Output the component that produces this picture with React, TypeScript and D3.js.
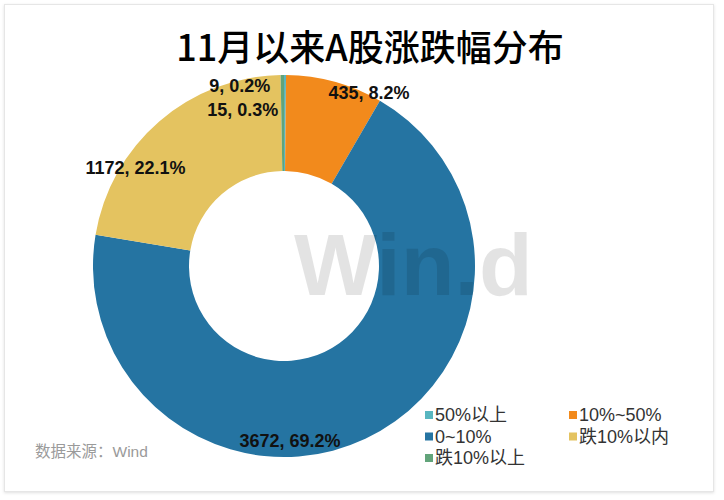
import React from "react";
import { pie, arc, PieArcDatum } from "d3";

// data
const categories = ["50%以上", "10%~50%", "0~10%", "跌10%以内", "跌10%以上"];
const counts = [9, 435, 3672, 1172, 15];
const shares = ["0.2%", "8.2%", "69.2%", "22.1%", "0.3%"];
const colors = ["#58b6c0", "#f28a1c", "#2574a2", "#e4c360", "#62a47a"];
// label nudges from the slice centroid (Excel "best fit" style)
const labelOffsets: [number, number][] = [
  [-45, -37],
  [47, -35],
  [-55, 45],
  [-55, 10],
  [-40, -13],
];
// legend grid: [column, row]
const legendSlots: [number, number][] = [
  [0, 0],
  [1, 0],
  [0, 1],
  [1, 1],
  [0, 2],
];

const W = 724;
const H = 500;
const cx = 284;
const cy = 266;
const outerR = 191;
const innerR = 95;

const latin = "Arial, 'Liberation Sans', 'Noto Sans CJK SC', sans-serif";

export default function App() {
  const slices = pie<number>().sort(null).value((d) => d)(counts);
  const arcGen = arc<PieArcDatum<number>>().innerRadius(innerR).outerRadius(outerR);

  return (
    <svg
      width={W}
      height={H}
      style={{ position: "absolute", left: 0, top: 0, background: "#fff" }}
    >
      <defs>
        <filter id="shadow" x="-5%" y="-5%" width="110%" height="110%">
          <feDropShadow dx="0" dy="1" stdDeviation="1.5" floodColor="#000" floodOpacity="0.12" />
        </filter>
      </defs>
      <rect x={4.5} y={4.5} width={709} height={487} fill="#fff" stroke="#e6e6e6" filter="url(#shadow)" />

      <text
        x={370}
        y={61}
        textAnchor="middle"
        fontFamily="'Noto Sans CJK SC', sans-serif"
        fontWeight={500}
        fontSize={36}
        fill="#000"
      >
        11月以来A股涨跌幅分布
      </text>

      <g transform={`translate(${cx},${cy})`}>
        {slices.map((s, i) => (
          <path key={categories[i]} d={arcGen(s) || ""} fill={colors[i]} />
        ))}
      </g>

      {/* watermark */}
      <text
        x={294}
        y={295}
        fontFamily={latin}
        fontWeight="bold"
        fontSize={88}
        fill="#000"
        fillOpacity={0.11}
      >
        Win.d
      </text>

      <g transform={`translate(${cx},${cy})`}>
        {slices.map((s, i) => {
          const [x, y] = arcGen.centroid(s);
          return (
            <text
              key={categories[i]}
              x={x + labelOffsets[i][0]}
              y={y + labelOffsets[i][1]}
              dy="0.35em"
              textAnchor="middle"
              fontFamily={latin}
              fontWeight="bold"
              fontSize={18}
              fill="#111"
            >
              {`${counts[i]}, ${shares[i]}`}
            </text>
          );
        })}
      </g>

      <g transform="translate(425,415)" fontFamily={latin} fontSize={18} fill="#333">
        {categories.map((c, i) => {
          const [col, row] = legendSlots[i];
          const x = col * 144;
          const y = row * 21.5;
          return (
            <g key={c} transform={`translate(${x},${y})`}>
              <rect x={0} y={-4} width={8} height={8} fill={colors[i]} />
              <text x={10} dy="0.35em">
                {c}
              </text>
            </g>
          );
        })}
      </g>

      <text x={35} y={452} dy="0.35em" fontFamily={latin} fontSize={15.5} fill="#9a9a9a">
        数据来源：Wind
      </text>
    </svg>
  );
}
